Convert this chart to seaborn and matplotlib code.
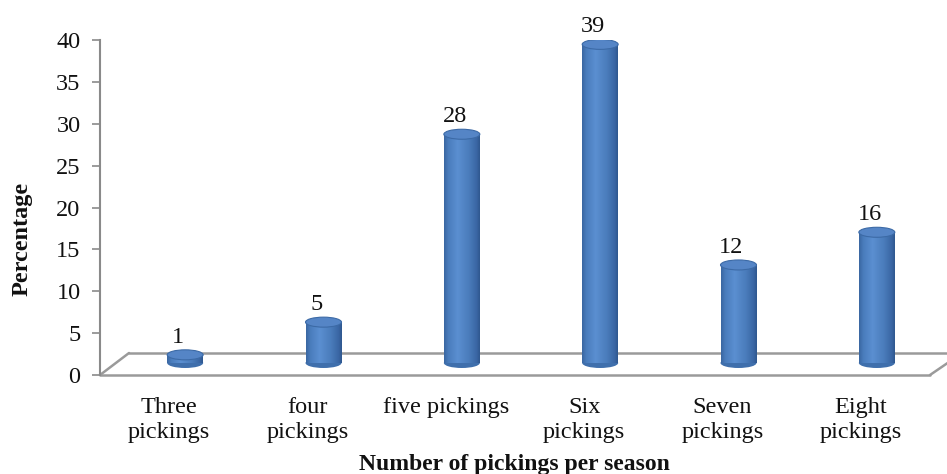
import numpy as np
import pandas as pd
import matplotlib
matplotlib.use("Agg")
import matplotlib.pyplot as plt
import seaborn as sns
from matplotlib.transforms import Affine2D
from matplotlib.patches import Ellipse
from matplotlib.lines import Line2D
from matplotlib.colors import LinearSegmentedColormap

categories = ["Three\npickings", "four\npickings", "five pickings", "Six\npickings",
              "Seven\npickings", "Eight\npickings"]
values = [1, 5, 28, 39, 12, 16]
y_ticks = [0, 5, 10, 15, 20, 25, 30, 35, 40]

sns.set_theme(style="white")
plt.rcParams['font.family'] = ['Liberation Serif', 'DejaVu Serif']

W, H = 947, 474
fig = plt.figure(figsize=(W / 100, H / 100), dpi=100)
ax_left, ax_bottom, ax_w, ax_h = 100, 99, 830, 335
ax = fig.add_axes([ax_left / W, ax_bottom / H, ax_w / W, ax_h / H])

df = pd.DataFrame({"cat": categories, "val": values})
sns.barplot(data=df, x="cat", y="val", ax=ax, color="#4a7ebb", width=0.26,
            saturation=1, linewidth=0)
ax.set_xlim(-0.5, 5.5)
ax.set_ylim(0, 40)
ax.set_yticks(y_ticks)

# 3D-like perspective: bars sit a bit behind and to the right of the front floor edge
k = 0.9755
dx_px, dy_px = 16, 12
bar_trans = ax.transData + Affine2D().translate(0, -ax_bottom).scale(1, k).translate(dx_px, ax_bottom + dy_px)

cmap = LinearSegmentedColormap.from_list(
    "cyl", [(0.0, "#3a67a2"), (0.12, "#4a7dbd"), (0.38, "#5b8fd1"),
            (0.7, "#4a7cbb"), (0.92, "#3a66a3"), (1.0, "#2f5890")])
grad = np.linspace(0, 1, 64).reshape(1, -1)

px_per_unit = ax_h / 40 * k
cap_h = 10 / px_per_unit
for patch, v in zip(ax.patches, values):
    x0 = patch.get_x()
    w = patch.get_width()
    xc = x0 + w / 2
    bot = Ellipse((xc, 0), w, cap_h, facecolor="#3f6fac", edgecolor="none",
                  transform=bar_trans, zorder=2)
    ax.add_patch(bot)
    patch.set_transform(bar_trans)
    patch.set_zorder(3)
    im = ax.imshow(grad, cmap=cmap, aspect="auto", extent=(x0, x0 + w, 0, v),
                   zorder=3.5, interpolation="bilinear")
    im.set_transform(bar_trans)
    im.set_clip_path(patch)
    top = Ellipse((xc, v), w, cap_h, facecolor="#5585c6", edgecolor="#3c6aa6",
                  linewidth=0.8, transform=bar_trans, zorder=4)
    ax.add_patch(top)
    ax.text(xc, v + cap_h / 2, str(v), transform=bar_trans + Affine2D().translate(-7, 2),
            ha="center", va="bottom", fontsize=17.5, color="#111111", zorder=5)

ax.set_xlim(-0.5, 5.5)
ax.set_ylim(0, 40)

# floor (perspective plane)
floor_col = "#9a9a9a"
dxf, dyf = 29 / ax_w, 22 / ax_h
floor_lines = [
    ([0, 1.0], [0, 0]),
    ([dxf, 1.03], [dyf, dyf]),
    ([0, dxf], [0, dyf]),
    ([1.0, 1.03], [0, 17 / ax_h]),
]
for xs, ys in floor_lines:
    ax.add_line(Line2D(xs, ys, transform=ax.transAxes, color=floor_col, lw=1.8,
                       clip_on=False, zorder=1))

for s in ["top", "right", "bottom"]:
    ax.spines[s].set_visible(False)
ax.spines["left"].set_color("#8a8a8a")
ax.spines["left"].set_linewidth(1.5)
ax.tick_params(axis="y", which="both", left=True, length=6, width=1.2,
               color="#8a8a8a", pad=8, labelsize=17.5, labelcolor="#111111")
ax.tick_params(axis="x", bottom=False, pad=10, labelsize=17.5, labelcolor="#111111")
for lbl in ax.get_xticklabels():
    lbl.set_linespacing(1.25)

ax.set_xlabel("")
ax.set_ylabel("")
fig.text(22 / W, 1 - 239 / H, "Percentage", rotation=90, ha="center", va="center",
         fontsize=17.5, fontweight="bold", color="#111111")
fig.text(514 / W, 1 - 470 / H, "Number of pickings per season", ha="center",
         va="baseline", fontsize=17, fontweight="bold", color="#111111")

fig.savefig("out.png", dpi=100, facecolor="white")
